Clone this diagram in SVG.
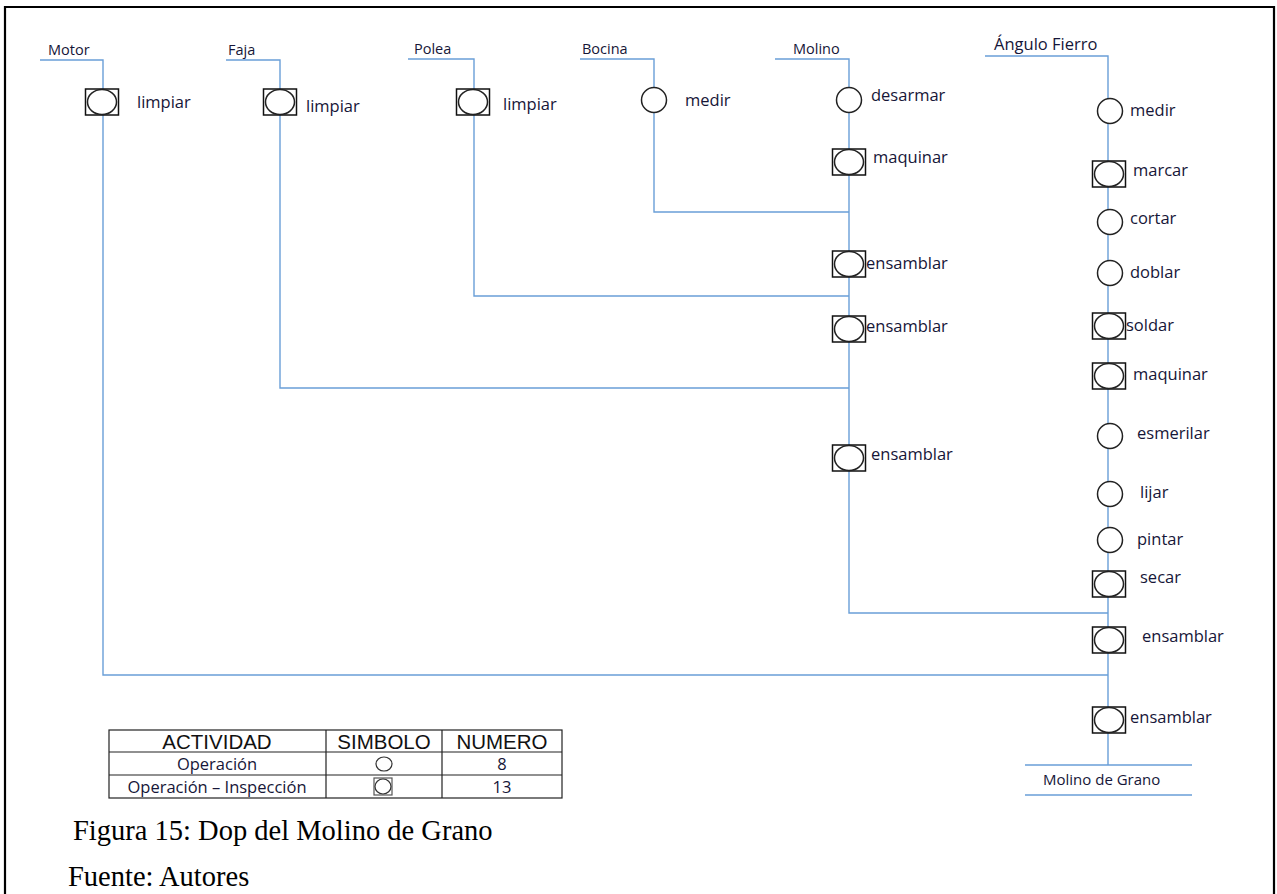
<svg xmlns="http://www.w3.org/2000/svg" width="1277" height="894" viewBox="0 0 1277 894">
  <style>
    .ln { stroke: #6a9fd8; stroke-width: 1.4; fill: none; }
    .sq { fill: #ffffff; stroke: #111111; stroke-width: 1.5; }
    .op { fill: #ffffff; stroke: #222222; stroke-width: 1.5; }
    .src { font-family: "Open Sans", "Noto Sans", sans-serif; font-size: 14.5px; fill: #161638; }
    .lbl { font-family: "Open Sans", "Noto Sans", sans-serif; font-size: 16.5px; fill: #161638; }
    .hd { font-family: "Liberation Sans", Arial, sans-serif; font-size: 20.5px; fill: #111111; }
    .cell { font-family: "Open Sans", "Noto Sans", sans-serif; font-size: 16.5px; fill: #161638; }
    .cap { font-family: "Liberation Serif", "Times New Roman", serif; font-size: 28.5px; fill: #000000; }
    .grid { stroke: #222222; stroke-width: 1.2; fill: none; }
  </style>
  <defs>
    <!-- operation: plain circle -->
    <g id="sym-op">
      <ellipse class="op" cx="0" cy="0" rx="12.5" ry="12.5"/>
    </g>
    <!-- combined operation + inspection: circle inside a square -->
    <g id="sym-opi">
      <rect class="sq" x="-16.5" y="-13" width="33" height="26"/>
      <ellipse class="op" cx="0" cy="0" rx="14.5" ry="12.5"/>
    </g>
  </defs>

  <rect width="1277" height="894" fill="#ffffff"/>
  <!-- page frame (left, top, right) -->
  <path d="M5,894 V7 H1274 V894" fill="none" stroke="#000000" stroke-width="2.2"/>

  <!-- connectors -->
  <g id="connectors">
    <!-- Motor -->
    <path class="ln" d="M40,60 H103 V675 H1108"/>
    <!-- Faja -->
    <path class="ln" d="M226,60 H280 V388 H849"/>
    <!-- Polea -->
    <path class="ln" d="M408,59 H474 V296 H849"/>
    <!-- Bocina -->
    <path class="ln" d="M580,59 H654 V212 H849"/>
    <!-- Molino -->
    <path class="ln" d="M775,59 H849 V613 H1108"/>
    <!-- Ángulo Fierro -->
    <path class="ln" d="M985,56 H1108 V765"/>
    <!-- product bars -->
    <path class="ln" d="M1025,765 H1192 M1025,795 H1192"/>
  </g>

  <!-- source labels -->
  <g id="sources">
    <text class="src" x="48" y="55">Motor</text>
    <text class="src" x="228" y="55">Faja</text>
    <text class="src" x="414" y="54">Polea</text>
    <text class="src" x="582" y="54">Bocina</text>
    <text class="src" x="793" y="54">Molino</text>
    <text class="lbl" x="994" y="50">Ángulo Fierro</text>
    <text class="src" x="1043" y="785" style="font-size:15px">Molino de Grano</text>
  </g>

  <!-- Motor line -->
  <g id="motor-limpiar"><use href="#sym-opi" x="102" y="102"/><text class="lbl" x="137" y="108">limpiar</text></g>
  <!-- Faja line -->
  <g id="faja-limpiar"><use href="#sym-opi" x="280" y="102"/><text class="lbl" x="306" y="112">limpiar</text></g>
  <!-- Polea line -->
  <g id="polea-limpiar"><use href="#sym-opi" x="473" y="102"/><text class="lbl" x="503" y="110">limpiar</text></g>
  <!-- Bocina line -->
  <g id="bocina-medir"><use href="#sym-op" x="654" y="100"/><text class="lbl" x="685" y="106">medir</text></g>
  <!-- Molino line -->
  <g id="molino-desarmar"><use href="#sym-op" x="849" y="100"/><text class="lbl" x="871" y="101">desarmar</text></g>
  <g id="molino-maquinar"><use href="#sym-opi" x="849" y="162"/><text class="lbl" x="873" y="163">maquinar</text></g>
  <g id="molino-ensamblar1"><use href="#sym-opi" x="849" y="264"/><text class="lbl" x="866" y="269">ensamblar</text></g>
  <g id="molino-ensamblar2"><use href="#sym-opi" x="849" y="329"/><text class="lbl" x="866" y="332">ensamblar</text></g>
  <g id="molino-ensamblar3"><use href="#sym-opi" x="849" y="458"/><text class="lbl" x="871" y="460">ensamblar</text></g>
  <!-- Ángulo Fierro line -->
  <g id="af-medir"><use href="#sym-op" x="1110" y="111"/><text class="lbl" x="1130" y="116">medir</text></g>
  <g id="af-marcar"><use href="#sym-opi" x="1109" y="174"/><text class="lbl" x="1133" y="176">marcar</text></g>
  <g id="af-cortar"><use href="#sym-op" x="1110" y="222"/><text class="lbl" x="1130" y="224">cortar</text></g>
  <g id="af-doblar"><use href="#sym-op" x="1110" y="273"/><text class="lbl" x="1130" y="278">doblar</text></g>
  <g id="af-soldar"><use href="#sym-opi" x="1109" y="326"/><text class="lbl" x="1126" y="331">soldar</text></g>
  <g id="af-maquinar"><use href="#sym-opi" x="1109" y="376"/><text class="lbl" x="1133" y="380">maquinar</text></g>
  <g id="af-esmerilar"><use href="#sym-op" x="1110" y="436"/><text class="lbl" x="1137" y="439">esmerilar</text></g>
  <g id="af-lijar"><use href="#sym-op" x="1110" y="494"/><text class="lbl" x="1140" y="498">lijar</text></g>
  <g id="af-pintar"><use href="#sym-op" x="1110" y="540"/><text class="lbl" x="1137" y="545">pintar</text></g>
  <g id="af-secar"><use href="#sym-opi" x="1109" y="584"/><text class="lbl" x="1140" y="583">secar</text></g>
  <g id="af-ensamblar1"><use href="#sym-opi" x="1109" y="640"/><text class="lbl" x="1142" y="642">ensamblar</text></g>
  <g id="af-ensamblar2"><use href="#sym-opi" x="1109" y="720"/><text class="lbl" x="1130" y="723">ensamblar</text></g>

  <!-- summary table -->
  <g id="summary-table">
    <rect class="grid" x="109" y="730" width="453" height="68"/>
    <path class="grid" d="M109,752 H562 M109,775 H562 M326,730 V798 M442,730 V798"/>
    <text class="hd" x="217" y="749" text-anchor="middle">ACTIVIDAD</text>
    <text class="hd" x="384" y="749" text-anchor="middle">SIMBOLO</text>
    <text class="hd" x="502" y="749" text-anchor="middle">NUMERO</text>
    <text class="cell" x="217" y="770" text-anchor="middle">Operación</text>
    <text class="cell" x="217" y="793" text-anchor="middle">Operación – Inspección</text>
    <ellipse cx="384" cy="764" rx="8" ry="7" fill="none" stroke="#333333" stroke-width="1.2"/>
    <rect x="374" y="778" width="18" height="17" fill="none" stroke="#555555" stroke-width="1.2"/>
    <ellipse cx="383" cy="786.5" rx="8" ry="7.5" fill="none" stroke="#333333" stroke-width="1.2"/>
    <text class="cell" x="502" y="770" text-anchor="middle">8</text>
    <text class="cell" x="502" y="793" text-anchor="middle">13</text>
  </g>

  <!-- caption -->
  <text class="cap" x="73" y="840">Figura 15: Dop del Molino de Grano</text>
  <text class="cap" x="68" y="886">Fuente: Autores</text>
</svg>
